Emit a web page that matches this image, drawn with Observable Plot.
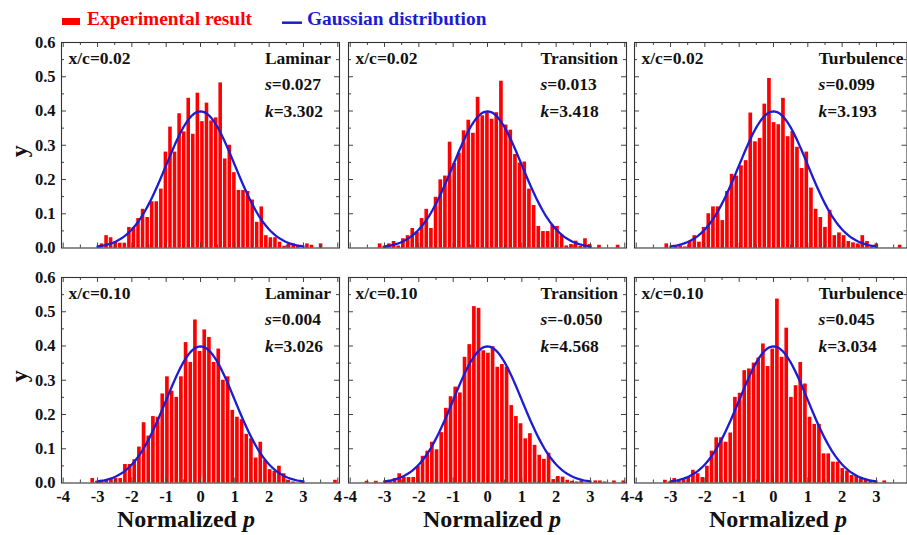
<!DOCTYPE html>
<html>
<head>
<meta charset="utf-8">
<script src="https://cdn.jsdelivr.net/npm/d3@7"></script>
<script src="https://cdn.jsdelivr.net/npm/@observablehq/plot@0.6"></script>
<style>
  html, body { margin: 0; padding: 0; background: #fff; }
  #chart { position: relative; width: 907px; height: 535px; overflow: hidden; background: #fff; }
  #chart > svg { position: absolute; }
</style>
</head>
<body>
<div id="chart"></div>
<script>
// Pressure-fluctuation PDFs: two chordwise stations x three boundary-layer regimes.
const stations = ["x/c=0.02", "x/c=0.10"];
const regimes = ["Laminar", "Transition", "Turbulence"];
const skewness = [[0.027, 0.013, 0.099], [0.004, -0.050, 0.045]];
const kurtosis = [[3.302, 3.418, 3.193], [3.026, 4.568, 3.034]];

// Histogram bins: width and centre of the first bin (normalized p units)
const binWidths = [[0.133, 0.136, 0.136], [0.136, 0.136, 0.136]];
const firstBinCenters = [[-2.87, -3.13, -3.11], [-3.14, -3.51, -3.15]];

// Probability density of each bin, left to right
const laminar002 = [0.012, 0.036, 0.030, 0.017, 0.014, 0.014, 0.060, 0.060, 0.086, 0.113, 0.089, 0.135, 0.135, 0.172, 0.280, 0.353, 0.280, 0.392, 0.339, 0.437, 0.332, 0.452, 0.369, 0.423, 0.371, 0.380, 0.482, 0.260, 0.300, 0.220, 0.168, 0.168, 0.165, 0.140, 0.075, 0.120, 0.036, 0.030, 0.030, 0.017, 0.005, 0.012, 0.012, 0.008, 0, 0.012, 0.008, 0, 0.012];
const transition002 = [0.012, 0.005, 0.012, 0.019, 0.006, 0.027, 0.036, 0.057, 0.046, 0.086, 0.113, 0.057, 0.148, 0.199, 0.210, 0.309, 0.247, 0.277, 0.342, 0.373, 0.335, 0.440, 0.386, 0.395, 0.376, 0.395, 0.487, 0.359, 0.344, 0.273, 0.248, 0.251, 0.172, 0.124, 0.063, 0.048, 0.048, 0.067, 0.063, 0.038, 0.006, 0.010, 0.020, 0.005, 0.027, 0.010, 0, 0.008, 0, 0, 0, 0.008];
const turbulence002 = [0.012, 0, 0.006, 0.006, 0.003, 0.020, 0.036, 0.017, 0.060, 0.100, 0.120, 0.120, 0.080, 0.165, 0.215, 0.210, 0.240, 0.255, 0.394, 0.310, 0.320, 0.420, 0.495, 0.366, 0.360, 0.437, 0.325, 0.340, 0.294, 0.232, 0.280, 0.175, 0.113, 0.089, 0.060, 0.110, 0.036, 0.044, 0.036, 0.019, 0.015, 0.012, 0.036, 0.019, 0.005, 0.012, 0, 0, 0, 0, 0.008];
const laminar010 = [0.013, 0.005, 0.008, 0.008, 0.011, 0.013, 0.013, 0.054, 0.054, 0.068, 0.105, 0.176, 0.137, 0.194, 0.192, 0.260, 0.310, 0.268, 0.250, 0.310, 0.410, 0.352, 0.476, 0.384, 0.447, 0.425, 0.352, 0.391, 0.300, 0.310, 0.212, 0.192, 0.185, 0.142, 0.129, 0.073, 0.119, 0.066, 0.039, 0.034, 0.049, 0.027, 0.008, 0.003, 0, 0.006, 0, 0, 0, 0, 0, 0, 0.008];
const transition010 = [0.005, 0, 0.005, 0, 0.006, 0.008, 0.013, 0.027, 0.016, 0.016, 0.016, 0.049, 0.078, 0.093, 0.119, 0.097, 0.147, 0.218, 0.252, 0.280, 0.263, 0.367, 0.404, 0.515, 0.510, 0.386, 0.379, 0.398, 0.338, 0.346, 0.338, 0.226, 0.194, 0.173, 0.129, 0.144, 0.110, 0.081, 0.069, 0.087, 0.010, 0.019, 0.017, 0.008, 0.005, 0.003, 0.006, 0, 0, 0.006, 0.006, 0.003, 0, 0.006, 0, 0.006];
const turbulence010 = [0.008, 0.003, 0.013, 0.006, 0.010, 0.016, 0.037, 0.027, 0.016, 0.049, 0.093, 0.132, 0.132, 0.119, 0.146, 0.250, 0.262, 0.328, 0.333, 0.350, 0.365, 0.406, 0.340, 0.391, 0.537, 0.367, 0.452, 0.250, 0.284, 0.352, 0.289, 0.192, 0.171, 0.171, 0.085, 0.085, 0.061, 0.061, 0.042, 0.035, 0.022, 0.022, 0.016, 0.008, 0.008, 0.003, 0, 0.006];
const densities = [[laminar002, transition002, turbulence002], [laminar010, transition010, turbulence010]];

// Axis ticks
const xTicks = [-4, -3, -2, -1, 0, 1, 2, 3, 4];
const xMinorTicks = [-3.5, -2.5, -1.5, -0.5, 0.5, 1.5, 2.5, 3.5];
const yTicks = [0, 0.1, 0.2, 0.3, 0.4, 0.5, 0.6];
const yInnerTicks = [0.1, 0.2, 0.3, 0.4, 0.5];
const yMinorTicks = [0.05, 0.15, 0.25, 0.35, 0.45, 0.55];

// Reference standard normal curve
const gaussMean = 0, gaussSd = 1, gaussRange = [-3, 3];
const gaussian = d3.range(gaussRange[0], gaussRange[1] + 1e-9, 0.05).map(x => ({
  x,
  y: Math.exp(-0.5 * ((x - gaussMean) / gaussSd) ** 2) / (gaussSd * Math.sqrt(2 * Math.PI))
}));

// Styling and layout
const FONT = "'Liberation Serif', 'Times New Roman', serif";
const RED = "#ff0000", BLUE = "#1c1cd2", INK = "#111", TICK = "#444";
const pxPerUnit = 278 / 8.1;
const frameH = 205.5;
const colLeft = [61, 347.5, 633.5];
const colDomain = [[-4.05, 4.05], [-4.05, 4.05], [-4.05, 3.89]];
const regimeInset = [8.5, 8.5, 3.5];
const rowTop = [41.5, 277];
const annoSize = 17.5;
const majorLen = 5, minorLen = 3;

const measureCtx = document.createElement("canvas").getContext("2d");
function textWidth(str, font) { measureCtx.font = font; return measureCtx.measureText(str).width; }

const chart = document.getElementById("chart");

function inwardTicks(domain, frameW) {
  const inside = v => v > domain[0] && v < domain[1];
  const maj = xTicks.filter(inside), min = xMinorTicks.filter(inside);
  return [
    Plot.ruleX(maj, {insetTop: frameH - majorLen, stroke: TICK}),
    Plot.ruleX(min, {insetTop: frameH - minorLen, stroke: TICK}),
    Plot.ruleX(maj, {insetBottom: frameH - majorLen, stroke: TICK}),
    Plot.ruleX(min, {insetBottom: frameH - minorLen, stroke: TICK}),
    Plot.ruleY(yInnerTicks, {insetRight: frameW - majorLen, stroke: TICK}),
    Plot.ruleY(yMinorTicks, {insetRight: frameW - minorLen, stroke: TICK}),
    Plot.ruleY(yInnerTicks, {insetLeft: frameW - majorLen, stroke: TICK}),
    Plot.ruleY(yMinorTicks, {insetLeft: frameW - minorLen, stroke: TICK})
  ];
}

function panel(r, c) {
  const domain = colDomain[c];
  const frameW = (domain[1] - domain[0]) * pxPerUnit;
  const w = binWidths[r][c], c0 = firstBinCenters[r][c];
  const bars = densities[r][c]
    .map((h, i) => ({x1: c0 + (i - 0.5) * w, x2: c0 + (i + 0.5) * w, h}))
    .filter(d => d.h > 0);

  const regime = regimes[c];
  const inset = regimeInset[c];
  const regimeW = textWidth(regime, `bold ${annoSize}px ${FONT}`);
  const blockLeft = -(inset + regimeW);
  const sW = textWidth("s", `italic bold ${annoSize}px ${FONT}`);
  const kW = textWidth("k", `italic bold ${annoSize}px ${FONT}`);

  const mL = c === 0 ? 61 : 4, mR = 4, mT = 6, mB = r === 1 ? 30 : 6;

  const marks = [
    Plot.rectY(bars, {x1: "x1", x2: "x2", y: "h", fill: RED, insetLeft: 0.5, insetRight: 0.5}),
    Plot.line(gaussian, {x: "x", y: "y", stroke: BLUE, strokeWidth: 2.3}),
    ...inwardTicks(domain, frameW),
    Plot.frame({stroke: "#333", strokeWidth: 1.1}),
    Plot.text([stations[r]], {text: d => d, frameAnchor: "top-left", textAnchor: "start", lineAnchor: "middle", dx: 7, dy: 16, fontSize: annoSize}),
    Plot.text([regime], {text: d => d, frameAnchor: "top-right", textAnchor: "end", lineAnchor: "middle", dx: -inset, dy: 16, fontSize: annoSize}),
    Plot.text(["s"], {text: d => d, frameAnchor: "top-right", textAnchor: "start", lineAnchor: "middle", dx: blockLeft, dy: 42, fontSize: annoSize, fontStyle: "italic"}),
    Plot.text([skewness[r][c]], {text: d => "=" + d.toFixed(3), frameAnchor: "top-right", textAnchor: "start", lineAnchor: "middle", dx: blockLeft + sW, dy: 42, fontSize: annoSize}),
    Plot.text(["k"], {text: d => d, frameAnchor: "top-right", textAnchor: "start", lineAnchor: "middle", dx: blockLeft, dy: 69, fontSize: annoSize, fontStyle: "italic"}),
    Plot.text([kurtosis[r][c]], {text: d => "=" + d.toFixed(3), frameAnchor: "top-right", textAnchor: "start", lineAnchor: "middle", dx: blockLeft + kW, dy: 69, fontSize: annoSize})
  ];
  if (r === 1) {
    const labelled = xTicks.filter(v => v >= domain[0] && v <= domain[1]);
    marks.push(Plot.axisX(labelled, {tickSize: 0, tickPadding: 7, tickFormat: d => String(d), label: null, fontSize: 16.5}));
  }
  if (c === 0) {
    marks.push(Plot.axisY(yTicks, {tickSize: 0, tickPadding: 6, tickFormat: d => d.toFixed(1), label: null, fontSize: 16.5}));
    marks.push(Plot.text(["y"], {text: d => d, frameAnchor: "left", rotate: -90, dx: -42.5, dy: r === 0 ? 12 : 2, fontSize: 24}));
  }

  const svg = Plot.plot({
    width: mL + frameW + mR,
    height: mT + frameH + mB,
    marginLeft: mL, marginRight: mR, marginTop: mT, marginBottom: mB,
    x: {domain, axis: null},
    y: {domain: [0, 0.6], axis: null},
    style: {fontFamily: FONT, fontSize: "16.5px", fontWeight: "bold", background: "transparent", overflow: "visible", color: INK},
    marks
  });
  svg.style.left = (colLeft[c] - mL) + "px";
  svg.style.top = (rowTop[r] - mT) + "px";
  chart.append(svg);
}

for (let r = 0; r < stations.length; ++r) {
  for (let c = 0; c < regimes.length; ++c) panel(r, c);
}

// Legend above the panels and the x-axis titles below them
const overlay = d3.create("svg")
  .attr("width", 907).attr("height", 535)
  .style("left", "0px").style("top", "0px").style("pointer-events", "none")
  .attr("font-family", FONT).attr("font-weight", "bold");

overlay.append("rect").attr("x", 62).attr("y", 18).attr("width", 18).attr("height", 7).attr("fill", RED);
overlay.append("text").attr("x", 87).attr("y", 25).attr("font-size", 19.4).attr("fill", RED).text("Experimental result");
overlay.append("line").attr("x1", 282).attr("x2", 302).attr("y1", 22.7).attr("y2", 22.7).attr("stroke", BLUE).attr("stroke-width", 2.5);
overlay.append("text").attr("x", 307).attr("y", 25).attr("font-size", 19.4).attr("fill", BLUE).text("Gaussian distribution");

const titleStarts = [117, 423, 709];
titleStarts.forEach(x0 => {
  const t = overlay.append("text").attr("x", x0).attr("y", 526.7).attr("font-size", 24).attr("fill", INK);
  t.append("tspan").text("Normalized ");
  t.append("tspan").attr("font-style", "italic").text("p");
});

chart.append(overlay.node());
</script>
</body>
</html>
